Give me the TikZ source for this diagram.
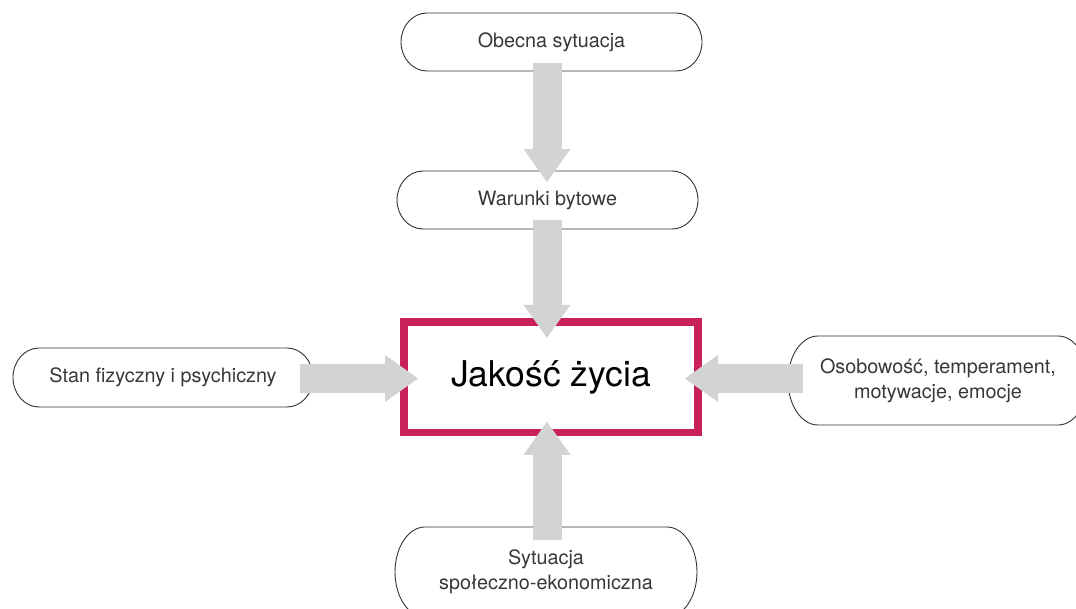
\documentclass[tikz,border=0pt]{standalone}
\usepackage{fontspec}
\setmainfont{TeX Gyre Heros}
\usetikzlibrary{calc,arrows.meta}
\definecolor{lbltext}{HTML}{383838}
\definecolor{boxedge}{HTML}{333333}
\definecolor{arrowgray}{HTML}{D1D3D4}
\definecolor{mainred}{HTML}{C9215C}
\tikzset{
  lbl/.style={draw=none, fill=none, inner sep=0pt, outer sep=0pt, align=center,
    text=lbltext, font=\fontsize{19.8}{25}\selectfont},
  pillline/.style={draw=boxedge, line width=0.9pt, fill=white},
  mainbox/.style={draw=mainred, line width=7.5pt, fill=white, outer sep=0pt,
    inner sep=0pt, text=black, font=\fontsize{35.5}{40}\selectfont},
  blockarrow/.style={draw=arrowgray, line width=29pt, line cap=butt,
    -{Triangle[length=33pt,width=47pt,line width=0pt]}}
}
% \pillbox{name}{x}{y}{width}{height}{end radius}{text}
\newcommand\pillbox[7]{%
  \node[lbl, minimum width=#4pt, minimum height=#5pt] (#1) at (#2,#3) {};
  \draw[pillline] ([xshift=#6pt]#1.north west) -- ([xshift=-#6pt]#1.north east)
    arc[start angle=90, end angle=-90, x radius=#6pt, y radius=#5pt/2]
    -- ([xshift=#6pt]#1.south west)
    arc[start angle=270, end angle=90, x radius=#6pt, y radius=#5pt/2] -- cycle;
  \node[lbl] at (#1.center) {#7};
}
\begin{document}
\begin{tikzpicture}[x=1pt, y=-1pt]
\useasboundingbox (0,0) rectangle (1076,608);
\begin{scope}
\clip (0,0) rectangle (1076,608);
\pillbox{top}{551.5}{42}{301}{58}{26}{Obecna sytuacja}
\pillbox{war}{547.5}{200}{301}{58}{26}{Warunki bytowe}
\pillbox{left}{163}{377.5}{300}{59}{26}{Stan fizyczny i psychiczny}
\pillbox{right}{938}{380.5}{300}{89}{30}{Osobowość, temperament,\\motywacje, emocje}
\pillbox{bot}{546}{572}{302}{90}{30}{Sytuacja\\społeczno-ekonomiczna}
\node[mainbox, minimum width=294pt, minimum height=110.5pt] (main) at (551,377) {Jakość życia};
\draw[blockarrow] ($(top.south)+(-4.5,-8)$) -- ($(war.north)+(-0.5,11)$);
\draw[blockarrow] ($(war.south)+(-0.5,-9)$) -- ($(main.north)+(-4,16)$);
\draw[blockarrow] ($(bot.north)+(1,13)$) -- ($(main.south)+(-4,-10.5)$);
\draw[blockarrow] ($(left.east)+(-13,1)$) -- ($(main.west)+(14,1.5)$);
\draw[blockarrow] ($(right.west)+(15,-2)$) -- ($(main.east)+(-13,1.5)$);
\end{scope}
\end{tikzpicture}
\end{document}
